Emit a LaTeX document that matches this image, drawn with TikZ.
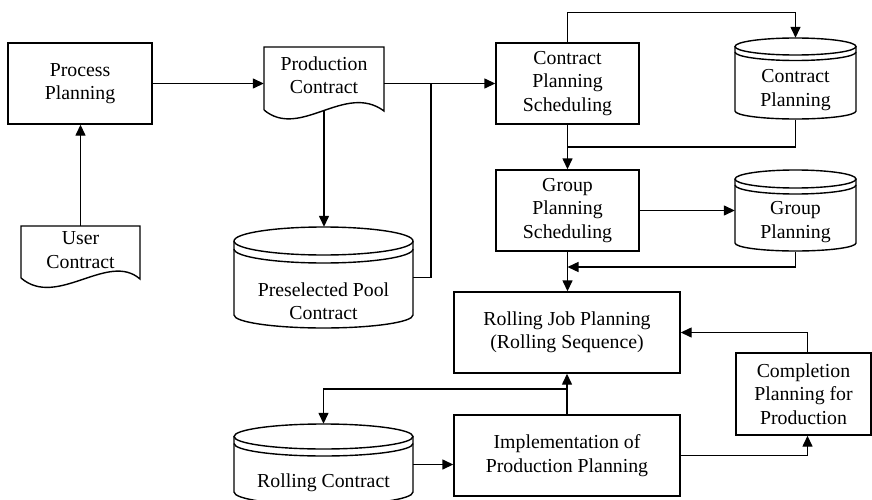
\documentclass[tikz,border=0pt]{standalone}
\usepackage{fontspec}
\setmainfont{Liberation Serif}
\usetikzlibrary{arrows.meta}

% database drum with a doubled top rim:
% #1 left x, #2 right x, #3 top rim centre y, #4 bottom rim centre y,
% #5 top radius y, #6 bottom radius y, #7 rim gap
\newcommand\drumshape[7]{%
  \pgfmathsetmacro\drumrx{(#2-#1)/2}%
  \draw[ln] (#1,#3) -- (#1,#4)
    arc[start angle=180,end angle=360,x radius=\drumrx pt,y radius=#6pt]
    -- (#2,#3);
  \draw[ln] ({(#1+#2)/2},#3) ellipse[x radius=\drumrx pt,y radius=#5pt];
  \draw[ln] (#1,#3+#7)
    arc[start angle=180,end angle=360,x radius=\drumrx pt,y radius=#5pt];
}

\begin{document}
\begin{tikzpicture}[x=1pt,y=-1pt,
  every node/.style={font=\fontsize{19.8}{23.5}\selectfont, align=center, inner sep=0pt},
  ln/.style={line width=1.4pt, line join=miter},
  arr/.style={ln, -{Triangle[length=11pt,width=10pt]}},
  boxnode/.style={draw, line width=1.4pt, minimum width=#1, minimum height=81pt},
  boxnode/.default=143pt,
  area/.style={minimum width=#1},
]
\useasboundingbox (0,0) rectangle (872,500);

% process boxes
\node[boxnode=144pt] (pp) at (80,83.5) {Process\\Planning};
\node[boxnode] (cps) at (567.5,83.5) {Contract\\Planning\\Scheduling};
\node[boxnode] (gps) at (567.5,210.5) {Group\\Planning\\Scheduling};
\node[boxnode=226pt] (rjp) at (567,332.5) {Rolling Job Planning\\(Rolling Sequence)};
\node[boxnode=226pt] (impl) at (567,455.5) {Implementation of\\Production Planning};
\node[boxnode=135pt, minimum height=82pt] (comp) at (803.5,394) {Completion\\Planning for\\Production};

% documents with a wavy lower edge
\draw[ln] (264,110) -- (264,47) -- (384,47) -- (384,111)
  .. controls (345,82) and (300,140) .. (264,110);
\node[area=120pt, minimum height=63pt] (pc) at (324,78.5) {};
\node (pclabel) at (324,75) {Production\\Contract};

\draw[ln] (21,278) -- (21,226) -- (140,226) -- (140,279)
  .. controls (108,251) and (57,309) .. (21,278);
\node[area=119pt, minimum height=52pt] (uc) at (80.5,252) {};
\node (uclabel) at (80.5,250) {User\\Contract};

% data stores
\drumshape{735}{856}{46.5}{111}{8.5}{8}{5.5}
\node[area=121pt, minimum height=81.5pt] (cpdb) at (795.5,78.75) {};
\node (cpdblabel) at (795.5,90) {Contract\\Planning};

\drumshape{735}{856}{179}{243}{9}{8}{6}
\node[area=121pt, minimum height=82pt] (gpdb) at (795.5,211) {};
\node (gpdblabel) at (795.5,222) {Group\\Planning};

\drumshape{234}{413}{241}{315}{14}{13}{8}
\node[area=179pt, minimum height=101pt] (pool) at (323.5,277.5) {};
\node (poollabel) at (323.5,301) {Preselected Pool\\Contract};

\drumshape{234}{413}{436.5}{492}{12.5}{13}{7}
\node[area=179pt, minimum height=81pt] (rc) at (323.5,464.5) {};
\node (rclabel) at (323.5,483) {Rolling Contract};

% junction points
\coordinate (j1) at (431,83.5);
\coordinate (j2) at (567.5,147);
\coordinate (j3) at (567.5,267);
\coordinate (j4) at (567,389);
\coordinate (j5) at (807.5,0);

% connectors
\draw[arr] (pp.east) -- (pp.east -| pc.west);
\draw[arr] (uc.north) -- (uc.north |- pp.south);
\draw[arr] (pc.south) -- (pc.south |- pool.north);
\draw[arr] (pc.east |- cps.west) -- (cps.west);
\draw[ln] (pool.east) -| (j1);
\draw[arr] (cps.north) -- ++(0,-30) -| (cpdb.north);
\draw[ln] (cpdb.south) |- (j2);
\draw[arr] (cps.south) -- (gps.north);
\draw[arr] (gps.east) -- (gps.east -| gpdb.west);
\draw[arr] (gpdb.south) |- (j3);
\draw[arr] (gps.south) -- (gps.south |- rjp.north);
\draw[arr] (impl.north) -- (rjp.south);
\draw[arr] (j4) -| (rc.north);
\draw[arr] (rc.east) -- (rc.east -| impl.west);
\draw[arr] (impl.east) -| (j5 |- comp.south);
\draw[arr] (j5 |- comp.north) |- (rjp.east);
\end{tikzpicture}
\end{document}
